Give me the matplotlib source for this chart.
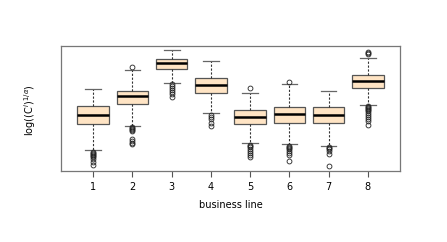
import matplotlib
matplotlib.use("Agg")
import matplotlib.pyplot as plt

categories = [1, 2, 3, 4, 5, 6, 7, 8]
whis_hi = [9.0, 10.9, 12.9, 11.8, 8.6, 9.5, 8.8, 12.1]
q3 = [7.3, 8.8, 12.0, 10.1, 6.9, 7.2, 7.2, 10.4]
med = [6.4, 8.3, 11.6, 9.4, 6.2, 6.5, 6.4, 9.8]
q1 = [5.5, 7.5, 11.0, 8.6, 5.5, 5.6, 5.6, 9.1]
whis_lo = [2.9, 5.3, 9.6, 6.6, 3.6, 3.5, 3.3, 7.4]
outliers = [
    [2.7, 2.6, 2.5, 2.4, 2.3, 2.2, 2.0, 1.7, 1.4],
    [11.2, 5.2, 5.1, 5.0, 4.9, 4.8, 4.0, 3.8, 3.6, 3.5],
    [9.5, 9.3, 9.1, 8.9, 8.7, 8.5, 8.2],
    [6.4, 6.2, 6.0, 5.6, 5.3],
    [9.1, 3.4, 3.3, 3.2, 3.0, 2.8, 2.6, 2.4, 2.2],
    [9.7, 3.3, 3.2, 3.1, 3.0, 2.8, 2.6, 2.4, 1.8],
    [3.2, 3.1, 3.0, 2.8, 2.5, 1.3],
    [12.5, 12.6, 12.7, 7.3, 7.2, 7.1, 7.0, 6.9, 6.8, 6.6, 6.4, 6.2, 6.0, 5.8, 5.4],
]

plt.rcParams['mathtext.fontset'] = 'dejavusans'

stats = []
for i in range(len(categories)):
    stats.append(dict(med=med[i], q1=q1[i], q3=q3[i], whislo=whis_lo[i],
                      whishi=whis_hi[i], fliers=outliers[i], label=str(categories[i])))

fig = plt.figure(figsize=(4.47, 2.42), dpi=100)
ax = fig.add_axes([0.1365, 0.2934, 0.895 - 0.1365, 0.811 - 0.2934])

ax.bxp(stats, positions=categories, widths=0.8, patch_artist=True,
       boxprops=dict(facecolor='#FFE4C4', edgecolor='#555555', linewidth=0.9),
       medianprops=dict(color='black', linewidth=1.8),
       whiskerprops=dict(color='#333333', linestyle=(0, (2, 1.5)), linewidth=0.8),
       capprops=dict(color='#666666', linewidth=0.9),
       capwidths=0.4,
       flierprops=dict(marker='o', markersize=3.5, markerfacecolor='none',
                       markeredgecolor='#222222', markeredgewidth=0.6, linestyle='none'))

ax.set_xlim(0.18, 8.82)
ax.set_ylim(0.836, 13.364)
ax.set_yticks([])
ax.set_xticks(categories)
ax.set_xticklabels([str(c) for c in categories], fontsize=7)
ax.tick_params(axis='x', length=4, width=0.8, color='#555555', pad=4)
for s in ax.spines.values():
    s.set_color('#777777')
    s.set_linewidth(0.9)

ax.set_xlabel('business line', fontsize=7, labelpad=6)
fig.text(0.067, 0.545, r'log$((\mathrm{C}^i)^{1/\alpha})$', rotation=90, fontsize=7,
         ha='center', va='center')

fig.savefig('out.png', dpi=100)
